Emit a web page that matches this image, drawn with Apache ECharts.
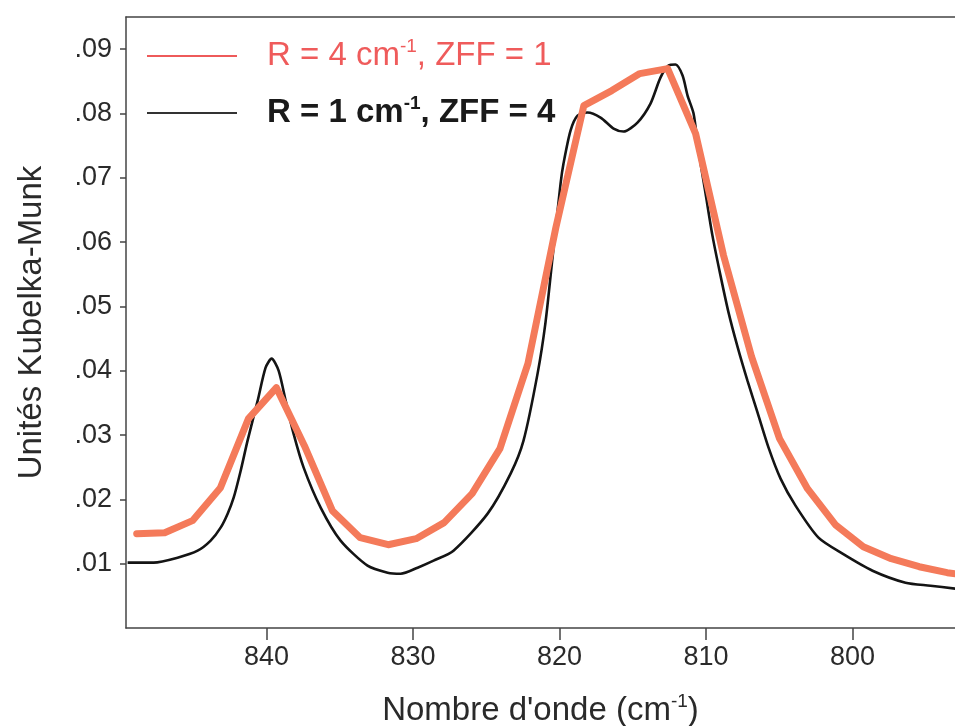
<!DOCTYPE html>
<html>
<head>
<meta charset="utf-8">
<script src="https://cdn.jsdelivr.net/npm/echarts@6/dist/echarts.min.js"></script>
<style>html,body{margin:0;padding:0;background:#fff}#c{width:955px;height:726px}</style>
</head>
<body>
<div id="c"></div>
<script>
// Wavenumbers (cm-1) and Kubelka-Munk values
const redX = [848.87,846.96,845.06,843.15,841.24,839.33,837.42,835.51,833.61,831.70,829.79,827.88,825.97,824.07,822.16,820.25,818.34,816.43,814.52,812.62,810.71,808.80,806.89,804.98,803.07,801.17,799.26,797.35,795.44,793.53,791.62];
const redY = [0.01467,0.01482,0.01669,0.02182,0.03255,0.03737,0.02835,0.01824,0.01404,0.01295,0.01389,0.01638,0.02089,0.02788,0.04110,0.06226,0.08123,0.08356,0.08620,0.08698,0.07687,0.05790,0.04219,0.02944,0.02166,0.01607,0.01264,0.01078,0.00953,0.00860,0.00800];

const blackX = [849.49,847.71,846.08,844.71,843.82,843.14,842.66,842.25,841.77,841.30,840.61,840.07,839.66,839.18,838.70,838.16,837.47,836.31,834.95,833.11,831.74,830.85,829.69,828.60,827.24,824.91,823.34,822.46,821.50,820.96,820.48,819.93,819.73,819.25,818.77,818.09,817.20,816.31,815.63,814.68,813.79,813.11,812.56,812.08,811.60,811.26,810.85,810.51,810.03,809.56,809.01,808.46,807.85,807.17,806.48,805.73,804.91,803.89,802.32,800.68,798.63,796.38,794.67,792.97];
const blackY = [0.01016,0.01016,0.01093,0.01202,0.01358,0.01560,0.01778,0.02026,0.02446,0.02913,0.03535,0.04048,0.04188,0.04002,0.03535,0.03022,0.02493,0.01871,0.01358,0.00969,0.00860,0.00844,0.00938,0.01047,0.01202,0.01778,0.02400,0.02913,0.03955,0.04748,0.05759,0.06910,0.07221,0.07734,0.07967,0.08014,0.07936,0.07765,0.07719,0.07859,0.08154,0.08558,0.08745,0.08761,0.08589,0.08278,0.07998,0.07423,0.06754,0.06101,0.05479,0.04904,0.04375,0.03846,0.03348,0.02804,0.02322,0.01902,0.01404,0.01156,0.00891,0.00705,0.00658,0.00611];

const xTicks = [840, 830, 820, 810, 800];
const yTicks = [0.01, 0.02, 0.03, 0.04, 0.05, 0.06, 0.07, 0.08, 0.09];

const redName = 'R = 4 cm-1, ZFF = 1';
const blackName = 'R = 1 cm-1, ZFF = 4';
const xTitle = 'Nombre d\'onde (cm-1)';
const yTitle = 'Unités Kubelka-Munk';

const FONT = '"Liberation Sans", Arial, sans-serif';
const chart = echarts.init(document.getElementById('c'));

function supFmt(name) {
  const parts = name.split('cm-1');
  return '{a|' + parts[0] + 'cm}{s|-1}{a|' + parts[1] + '}';
}

chart.setOption({
  animation: false,
  backgroundColor: '#ffffff',
  grid: { left: 126, right: 0, top: 17, bottom: 98, containLabel: false, outerBoundsMode: 'none' },
  xAxis: [{
    type: 'value', min: 793, max: 849.6, inverse: true,
    name: supFmt(xTitle),
    nameLocation: 'middle', nameGap: 64,
    nameTextStyle: {
      rich: {
        a: { fontFamily: FONT, fontSize: 33, color: '#2a2a2a', lineHeight: 38 },
        s: { fontFamily: FONT, fontSize: 19, color: '#2a2a2a', verticalAlign: 'top', lineHeight: 24 }
      }
    },
    axisLine: { show: true, onZero: false, lineStyle: { color: '#444', width: 1.5 } },
    axisTick: { show: true, length: 12, inside: false, customValues: xTicks, lineStyle: { color: '#444', width: 1.5 } },
    axisLabel: { customValues: xTicks, fontFamily: FONT, fontSize: 27, color: '#2a2a2a', margin: 16 },
    splitLine: { show: false }
  }, {
    type: 'value', min: 793, max: 849.6, inverse: true, position: 'top',
    axisLine: { show: true, onZero: false, lineStyle: { color: '#444', width: 1.5 } },
    axisTick: { show: false }, axisLabel: { show: false }, splitLine: { show: false }
  }],
  yAxis: {
    type: 'value', min: 0, max: 0.095,
    name: yTitle,
    nameLocation: 'middle', nameGap: 78, nameRotate: 90,
    nameTextStyle: { fontFamily: FONT, fontSize: 33, color: '#2a2a2a' },
    axisLine: { show: true, onZero: false, lineStyle: { color: '#444', width: 1.5 } },
    axisTick: { show: true, length: 6, customValues: yTicks, lineStyle: { color: '#444', width: 1.5 } },
    axisLabel: {
      customValues: yTicks, fontFamily: FONT, fontSize: 27, color: '#2a2a2a', margin: 14,
      formatter: v => v.toFixed(2).replace(/^0/, '')
    },
    splitLine: { show: false }
  },
  legend: [{
    left: 147, top: 37, padding: 0, orient: 'vertical',
    itemWidth: 90, itemHeight: 14, icon: 'path://M0,6 L90,6 L90,8 L0,8 Z',
    data: [{ name: redName, itemStyle: { color: '#ee5a5a' } }],
    formatter: supFmt,
    textStyle: {
      padding: [0, 0, 0, 25],
      rich: {
        a: { fontFamily: FONT, fontSize: 33, color: '#ef5b5b', lineHeight: 38 },
        s: { fontFamily: FONT, fontSize: 19, color: '#ef5b5b', verticalAlign: 'top', lineHeight: 24 }
      }
    }
  }, {
    left: 147, top: 94, padding: 0, orient: 'vertical',
    itemWidth: 90, itemHeight: 14, icon: 'path://M0,6 L90,6 L90,8 L0,8 Z',
    data: [{ name: blackName, itemStyle: { color: '#333333' } }],
    formatter: supFmt,
    textStyle: {
      padding: [0, 0, 0, 25],
      rich: {
        a: { fontFamily: FONT, fontSize: 33, fontWeight: 'bold', color: '#1a1a1a', lineHeight: 38 },
        s: { fontFamily: FONT, fontSize: 19, fontWeight: 'bold', color: '#1a1a1a', verticalAlign: 'top', lineHeight: 24 }
      }
    }
  }],
  series: [{
    name: blackName, type: 'line', symbol: 'none', smooth: 0.25,
    data: blackX.map((x, i) => [x, blackY[i]]),
    lineStyle: { color: '#141414', width: 2.6 },
    itemStyle: { color: '#333333' },
    z: 2
  }, {
    name: redName, type: 'line', symbol: 'none', smooth: false,
    data: redX.map((x, i) => [x, redY[i]]),
    lineStyle: { color: '#f47a5a', width: 7, join: 'round', cap: 'round' },
    itemStyle: { color: '#ee5a5a' },
    z: 3
  }]
});
</script>
</body>
</html>
